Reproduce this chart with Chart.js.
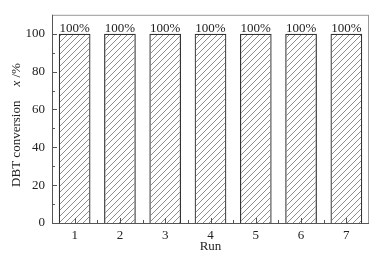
<!DOCTYPE html>
<html>
<head>
<meta charset="utf-8">
<script src="https://cdn.jsdelivr.net/npm/chart.js@4"></script>
<style>
  body { margin: 0; background: #fff; }
  #wrap { width: 380px; height: 260px; }
</style>
</head>
<body>
<div id="wrap"><canvas id="myChart" width="380" height="260"></canvas></div>
<script>
// run numbers and conversion
const runs = ['1', '2', '3', '4', '5', '6', '7'];
const conversion = [100, 100, 100, 100, 100, 100, 100];
const yTicks = [0, 20, 40, 60, 80, 100];

const FONT = "'Liberation Serif', serif";

// hatch pattern for bars
const hatch = () => {
  const c = document.createElement('canvas');
  c.width = 6; c.height = 6;
  const g = c.getContext('2d');
  g.strokeStyle = '#707070';
  g.lineWidth = 0.8;
  g.beginPath();
  g.moveTo(0, 6); g.lineTo(6, 0);
  g.moveTo(-1, 1); g.lineTo(1, -1);
  g.moveTo(5, 7); g.lineTo(7, 5);
  g.stroke();
  return g.createPattern(c, 'repeat');
};

const extras = {
  id: 'extras',
  afterDraw(chart) {
    const { ctx, chartArea: a, scales: { x, y } } = chart;
    ctx.save();
    // frame
    ctx.strokeStyle = '#999';
    ctx.lineWidth = 1;
    ctx.strokeRect(a.left + 0.5, a.top + 0.5, a.right - a.left - 1, a.bottom - a.top);
    ctx.strokeStyle = '#555';
    ctx.beginPath();
    ctx.moveTo(a.left + 0.5, a.top); ctx.lineTo(a.left + 0.5, a.bottom + 0.5);
    ctx.lineTo(a.right, a.bottom + 0.5);
    ctx.stroke();
    // inward ticks
    ctx.beginPath();
    for (let v = 0; v <= 100; v += 10) {
      const py = Math.round(y.getPixelForValue(v)) + 0.5;
      const len = v % 20 === 0 ? 5 : 3;
      ctx.moveTo(a.left, py); ctx.lineTo(a.left + len, py);
    }
    runs.forEach((r, i) => {
      const px = Math.round(x.getPixelForValue(i)) + 0.5;
      ctx.moveTo(px, a.bottom); ctx.lineTo(px, a.bottom - 5);
      if (i < runs.length - 1) {
        const mx = Math.round((x.getPixelForValue(i) + x.getPixelForValue(i + 1)) / 2) + 0.5;
        ctx.moveTo(mx, a.bottom); ctx.lineTo(mx, a.bottom - 3);
      }
    });
    ctx.stroke();
    // value labels
    ctx.fillStyle = '#222';
    ctx.font = '13px ' + FONT;
    ctx.textAlign = 'center';
    ctx.textBaseline = 'bottom';
    const meta = chart.getDatasetMeta(0);
    meta.data.forEach((bar, i) => {
      ctx.fillText(conversion[i] + '%', bar.x, bar.y + 1);
    });
    // x title
    ctx.textBaseline = 'middle';
    ctx.fillText('Run', (a.left + a.right) / 2, 247);
    // y title
    ctx.translate(17, 125);
    ctx.rotate(-Math.PI / 2);
    ctx.textAlign = 'left';
    const t1 = 'DBT conversion';
    const t2 = 'x';
    const t3 = ' /%';
    const gap = 14;
    ctx.font = '13px ' + FONT;
    const w1 = ctx.measureText(t1).width;
    const w3 = ctx.measureText(t3).width;
    ctx.font = 'italic 13px ' + FONT;
    const w2 = ctx.measureText(t2).width;
    let sx = -(w1 + gap + w2 + w3) / 2;
    ctx.font = '13px ' + FONT;
    ctx.fillText(t1, sx, 0);
    sx += w1 + gap;
    ctx.font = 'italic 13px ' + FONT;
    ctx.fillText(t2, sx, 0);
    sx += w2;
    ctx.font = '13px ' + FONT;
    ctx.fillText(t3, sx, 0);
    ctx.restore();
  }
};

const draw = () => {
  new Chart(document.getElementById('myChart'), {
    type: 'bar',
    data: {
      labels: runs,
      datasets: [{
        data: conversion,
        backgroundColor: hatch(),
        borderColor: '#333',
        borderWidth: 1.2,
        borderSkipped: 'bottom',
        categoryPercentage: 0.7,
        barPercentage: 1
      }]
    },
    options: {
      responsive: false,
      animation: false,
      layout: { padding: { top: 14, right: 11, left: 0, bottom: 0 } },
      plugins: { legend: { display: false }, tooltip: { enabled: false } },
      scales: {
        x: {
          grid: { display: false, drawTicks: false },
          border: { display: false },
          ticks: { color: '#222', font: { family: FONT, size: 13 }, padding: 5 },
          afterFit: (s) => { s.height = 37; }
        },
        y: {
          min: 0, max: 110,
          grid: { display: false, drawTicks: false },
          border: { display: false },
          afterBuildTicks: (s) => { s.ticks = yTicks.map(v => ({ value: v })); },
          ticks: { color: '#222', font: { family: FONT, size: 13 }, padding: 7 },
          afterFit: (s) => { s.width = 52; }
        }
      }
    },
    plugins: [extras]
  });
};

document.fonts.load("13px 'Liberation Serif'").then(draw, draw);
</script>
</body>
</html>
